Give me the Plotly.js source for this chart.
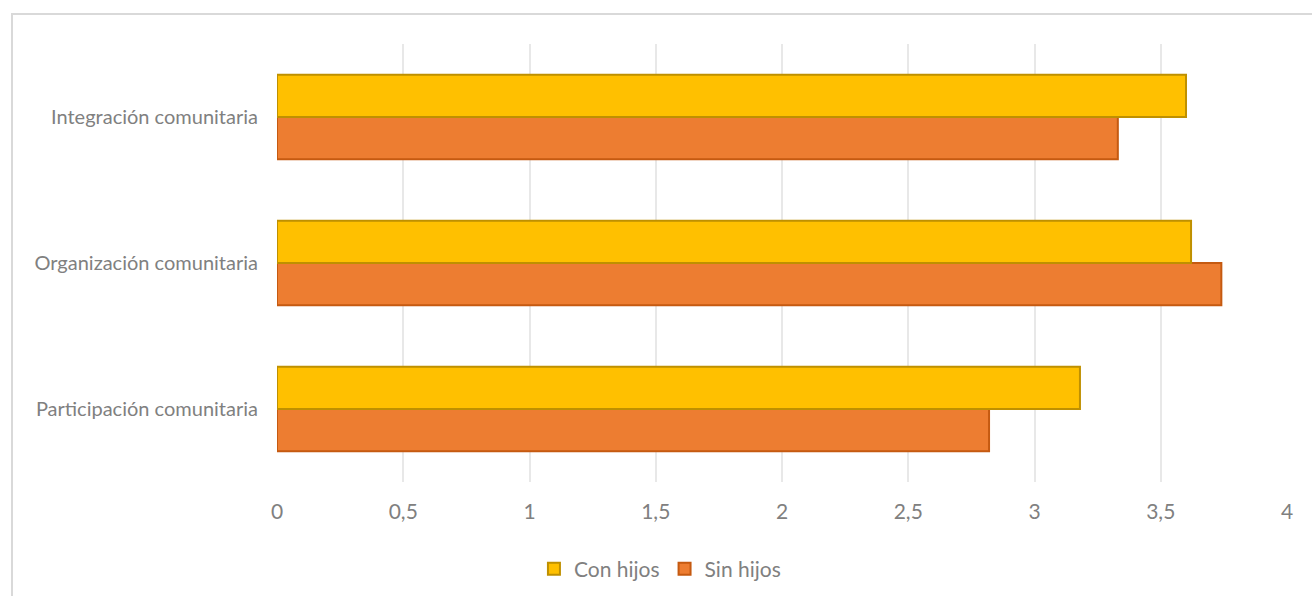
<!DOCTYPE html>
<html>
<head>
<meta charset="utf-8">
<script src="https://cdn.plot.ly/plotly-3.0.1.min.js"></script>
<style>
  html, body { margin: 0; padding: 0; background: #ffffff; overflow: hidden; }
  #wrap { position: relative; width: 1312px; height: 596px; }
  #chart { position: absolute; left: 0; top: 0; width: 1312px; height: 596px; }
  #frame {
    position: absolute; left: 11px; top: 13px; width: 1400px; height: 700px;
    border-left: 2px solid #d9d9d9; border-top: 2px solid #d9d9d9;
    pointer-events: none;
  }
</style>
</head>
<body>
<div id="wrap">
  <div id="chart"></div>
  <div id="frame"></div>
</div>
<script>
// Dimensions, listed bottom to top as Plotly lays out horizontal categories
const categories = ['Participación comunitaria', 'Organización comunitaria', 'Integración comunitaria'];
const conHijos = [3.18, 3.62, 3.60];
const sinHijos = [2.82, 3.74, 3.33];
const tickValues = [0, 0.5, 1, 1.5, 2, 2.5, 3, 3.5, 4];

const textColor = '#808080';
const fontFamily = 'Lato, "Open Sans", sans-serif';

const traces = [
  {
    type: 'bar', orientation: 'h', name: 'Sin hijos',
    y: categories, x: sinHijos,
    marker: { color: '#ed7d31', line: { color: '#c55a11', width: 2 } },
    legendrank: 2, hoverinfo: 'x+name'
  },
  {
    type: 'bar', orientation: 'h', name: 'Con hijos',
    y: categories, x: conHijos,
    marker: { color: '#ffc000', line: { color: '#bf9000', width: 2 } },
    legendrank: 1, hoverinfo: 'x+name'
  }
];

const layout = {
  width: 1312, height: 596,
  margin: { l: 277, r: 25, t: 44, b: 114, autoexpand: false },
  paper_bgcolor: 'rgba(0,0,0,0)',
  plot_bgcolor: '#ffffff',
  separators: ', ',
  barmode: 'group',
  bargap: 0.42,
  bargroupgap: 0,
  font: { family: fontFamily, size: 20, color: textColor },
  xaxis: {
    range: [0, 4],
    tickvals: tickValues,
    showgrid: true, gridcolor: '#e8e8e8', gridwidth: 2,
    zeroline: false, showline: false, ticks: '',
    ticklabelstandoff: 15,
    tickfont: { family: fontFamily, size: 21, color: textColor },
    automargin: false,
    fixedrange: true
  },
  yaxis: {
    type: 'category',
    categoryorder: 'array', categoryarray: categories,
    showgrid: false, zeroline: false, showline: false, ticks: '',
    ticklabelstandoff: 18,
    tickfont: { family: fontFamily, size: 20, color: textColor },
    automargin: false,
    fixedrange: true
  },
  showlegend: true,
  legend: {
    orientation: 'h',
    xref: 'container', yref: 'container',
    x: 0.503, xanchor: 'center',
    y: 0.045, yanchor: 'middle',
    font: { family: fontFamily, size: 21, color: textColor },
    itemwidth: 30,
    bgcolor: 'rgba(0,0,0,0)'
  }
};

Plotly.newPlot('chart', traces, layout, { displayModeBar: false, staticPlot: true });
</script>
</body>
</html>
